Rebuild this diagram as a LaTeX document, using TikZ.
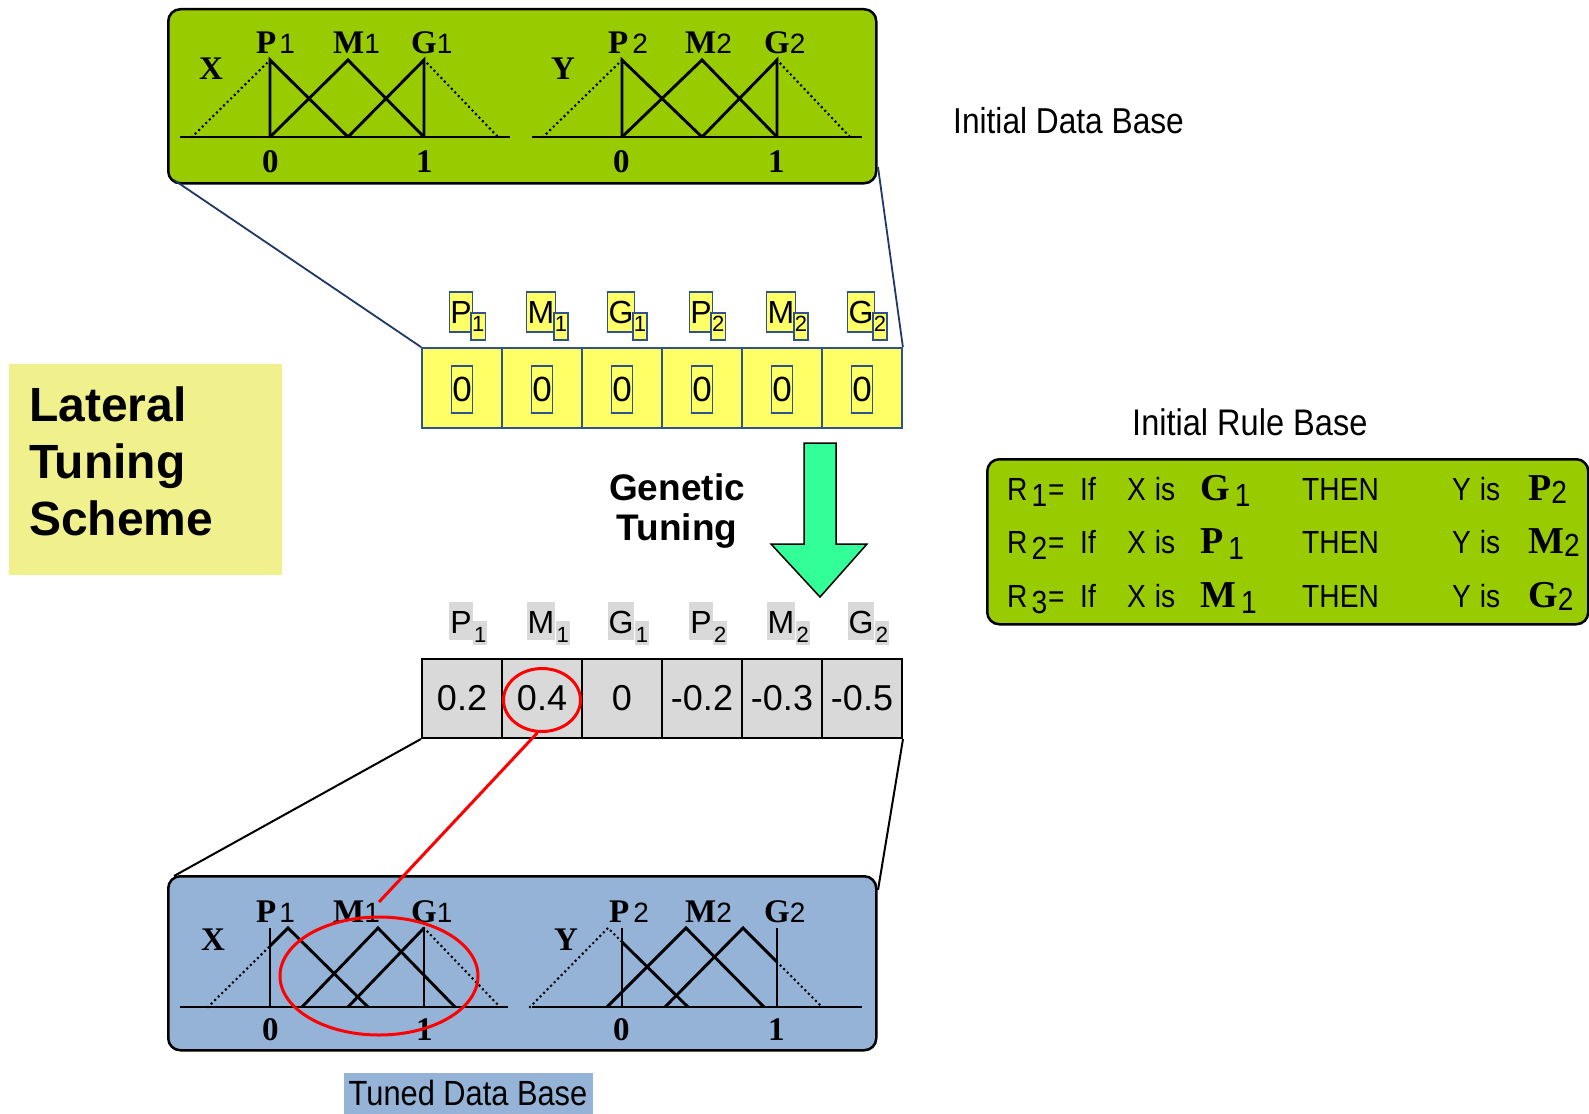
\documentclass[tikz,border=0pt]{standalone}
\usepackage{fontspec}
\usetikzlibrary{shapes.geometric}
\setmainfont{Liberation Serif}
\setsansfont{Liberation Sans}
\newfontfamily\arialf{Liberation Sans}
\newfontfamily\narrowf[FakeStretch=0.88]{Liberation Sans}
\newfontfamily\timesf{Liberation Serif}
\newcommand\myfs[1]{\fontsize{#1}{#1}\selectfont}
\newcommand\msub[1]{{\arialf\mdseries\myfs{28}#1}}
\definecolor{lgreen}{HTML}{99CC00}
\definecolor{bluebox}{HTML}{95B3D7}
\definecolor{yel}{HTML}{FFFF66}
\definecolor{dblue}{HTML}{2F528F}
\definecolor{lgray}{HTML}{D9D9D9}
\definecolor{latyel}{HTML}{F0F08C}
\definecolor{agreen}{HTML}{33FF99}
\definecolor{lnblue}{HTML}{1F3864}
\begin{document}
\begin{tikzpicture}[x=1pt,y=-1pt,
  dbbox/.style={draw=black, line width=2.5pt, rounded corners=12pt, inner sep=0pt, anchor=north west},
  mf/.style={line width=2.9pt},
  mfd/.style={line width=2.9pt, line cap=round, dash pattern=on 0pt off 5pt},
  mlab/.style={anchor=base west, inner sep=0pt, font=\timesf\bfseries\myfs{33}},
  ycell/.style={draw=dblue, line width=1.8pt, fill=yel, minimum width=80pt, minimum height=80pt, inner sep=0pt},
  yzero/.style={draw=dblue, line width=1.5pt, fill=yel, minimum width=21pt, minimum height=47pt, inner sep=0pt, font=\arialf\myfs{35}},
  ylab/.style={draw=dblue, line width=1.5pt, fill=yel, inner sep=1pt, text height=30pt, text depth=8pt, font=\arialf\myfs{32}},
  ysub/.style={draw=dblue, line width=1.5pt, fill=yel, inner sep=1pt, text height=18pt, text depth=7pt, font=\arialf\myfs{22}},
  gcell/.style={draw=black, line width=2pt, fill=lgray, minimum width=80pt, minimum height=79pt, inner sep=0pt},
  gval/.style={inner sep=0pt, font=\arialf\myfs{36}},
  glab/.style={fill=lgray, inner sep=1pt, text height=30pt, text depth=6pt, font=\arialf\myfs{32}},
  gsub/.style={fill=lgray, inner sep=1pt, text height=20pt, text depth=2pt, font=\arialf\myfs{22}},
  big/.style={anchor=base west, inner sep=0pt, font=\arialf\bfseries\myfs{48}},
  rt/.style={anchor=base west, inner sep=0pt, font=\narrowf\myfs{32}},
  lnk/.style={draw=lnblue, line width=1.8pt},
  redl/.style={draw=red, line width=3pt}
]
\useasboundingbox[fill=white] (0,0) rectangle (1589,1113);

% Lateral tuning scheme box
\node[fill=latyel, minimum width=273pt, minimum height=211pt, anchor=north west, inner sep=0pt] (lat) at (9,364) {};
\node[big] (l1) at (29,421) {Lateral};
\node[big] (l2) at (29,478) {Tuning};
\node[big] (l3) at (29,535) {Scheme};

% Initial data base box
\node[dbbox, fill=lgreen, minimum width=708pt, minimum height=174pt] (idb) at (167,8) {};
% X
\draw[mf] (180,137) -- (510,137);
\draw[mfd] (192,137) -- (270,60);
\draw[mfd] (424,60) -- (498,137);
\draw[mf] (270,137) -- (270,60) -- (348,137);
\draw[mf] (270,137) -- (348,60) -- (424,137);
\draw[mf] (348,137) -- (424,60) -- (424,137);
\node[mlab] (tx) at (199,80) {X};
\node[mlab] (tp1) at (256,54) {P\hspace{3pt}\msub{1}};
\node[mlab] (tm1) at (333,54) {M\msub{1}};
\node[mlab] (tg1) at (411,54) {G\msub{1}};
\node[mlab] (t0a) at (262,172) {0};
\node[mlab] (t1a) at (416,172) {1};
% Y
\draw[mf] (532,137) -- (862,137);
\draw[mfd] (543,137) -- (622,60);
\draw[mfd] (777,60) -- (850,137);
\draw[mf] (622,137) -- (622,60) -- (702,137);
\draw[mf] (622,137) -- (702,60) -- (777,137);
\draw[mf] (702,137) -- (777,60) -- (777,137);
\node[mlab] (ty) at (551,80) {Y};
\node[mlab] (tp2) at (608,54) {P\hspace{4pt}\msub{2}};
\node[mlab] (tm2) at (685,54) {M\msub{2}};
\node[mlab] (tg2) at (764,54) {G\msub{2}};
\node[mlab] (t0b) at (613,172) {0};
\node[mlab] (t1b) at (768,172) {1};

\node[anchor=base west, inner sep=0pt, font=\narrowf\myfs{36}] (idbl) at (953,134) {Initial Data Base};

% chromosomes
\foreach \i/\cx/\L/\s in {1/462/P/1, 2/542/M/1, 3/622/G/1, 4/702/P/2, 5/782/M/2, 6/862/G/2} {
  \node[ycell] (y\i) at (\cx,388) {};
  \node[yzero] (yz\i) at (\cx,389.5) {0};
  \node[ylab] (yl\i) at (\cx-1,312) {\L};
  \node[ysub, anchor=north west] (ys\i) at ([xshift=-3pt]yl\i.east) {\s};
  \node[gcell] (g\i) at (\cx,698.5) {};
  \node[glab] (gl\i) at (\cx-1,621) {\L};
  \node[gsub, anchor=north west] (gs\i) at (gl\i.east) {\s};
}
\foreach \i/\v in {1/0.2, 2/0.4, 3/0, 4/-0.2, 5/-0.3, 6/-0.5}
  \node[gval] (gv\i) at (g\i) {\v};

% connectors top box to chromosome
\coordinate (tlc) at (174,180);
\coordinate (trc) at (878,167);
\draw[lnk] (tlc) -- (y1.north west);
\draw[lnk] (trc) -- (y6.north east);

% genetic tuning arrow
\draw[fill=agreen, line width=1.5pt, line join=miter] (804,443) -- (836,443) -- (836,544) -- (867,544) -- (820,597) -- (771,544) -- (804,544) -- cycle;
\node[font=\arialf\bfseries\fontsize{37}{40}\selectfont, align=center, inner sep=0pt] (gt) at (677,511) {Genetic\\Tuning};

% tuned data base box
\node[dbbox, fill=bluebox, minimum width=708pt, minimum height=174pt] (tdbbox) at (167,875) {};
\coordinate (blc) at (174,876);
\coordinate (brc) at (878,890);
\draw[line width=2pt] (g1.south west) -- (blc);
\draw[line width=2pt] (g6.south east) -- (brc);
% X tuned
\draw[mf] (180,1007) -- (508,1007);
\draw[mf] (270,928) -- (270,1007);
\draw[mf] (424,928) -- (424,1007);
\draw[mfd] (208,1007) -- (270,946);
\draw[mf] (270,946) -- (288,928) -- (368,1007);
\draw[mf] (302,1007) -- (378,928) -- (455,1007);
\draw[mf] (348,1007) -- (424,928);
\draw[mfd] (424,928) -- (500,1007);
\node[mlab] (bx) at (201,950) {X};
\node[mlab] (bp1) at (256,922) {P\hspace{3pt}\msub{1}};
\node[mlab] (bm1) at (333,922) {M\msub{1}};
\node[mlab] (bg1) at (411,922) {G\msub{1}};
\node[mlab] (b0a) at (262,1040) {0};
\node[mlab] (b1a) at (416,1040) {1};
% Y tuned
\draw[mf] (532,1007) -- (862,1007);
\draw[mf] (622,928) -- (622,1007);
\draw[mf] (777,928) -- (777,1007);
\draw[mfd] (530,1007) -- (608,928) -- (622,942);
\draw[mf] (622,942) -- (688,1007);
\draw[mf] (607,1007) -- (686,928) -- (764,1007);
\draw[mf] (665,1007) -- (743,928) -- (777,962);
\draw[mfd] (777,962) -- (822,1007);
\node[mlab] (by) at (554,950) {Y};
\node[mlab] (bp2) at (609,922) {P\hspace{4pt}\msub{2}};
\node[mlab] (bm2) at (685,922) {M\msub{2}};
\node[mlab] (bg2) at (764,922) {G\msub{2}};
\node[mlab] (b0b) at (613,1040) {0};
\node[mlab] (b1b) at (768,1040) {1};

% red highlights
\node[ellipse, redl, minimum width=77pt, minimum height=63pt, inner sep=0pt] (e1) at (542,700) {};
\node[ellipse, redl, minimum width=198pt, minimum height=118pt, inner sep=0pt] (e2) at (379,976) {};
\coordinate (redend) at (379,902);
\draw[redl] (e1.262) -- (redend);

\node[fill=bluebox, minimum width=249pt, minimum height=41pt, inner sep=0pt, font=\narrowf\myfs{35}] (tdb) at (468,1093) {Tuned Data Base};

% rule base
\node[anchor=base west, inner sep=0pt, font=\narrowf\myfs{37}] (irbl) at (1132,435) {Initial Rule Base};
\node[dbbox, fill=lgreen, minimum width=601pt, minimum height=165pt] (rulebox) at (986,458) {};
\foreach \r/\yy/\A/\B in {1/500/G/P, 2/553/P/M, 3/607/M/G} {
  \node[rt] (ra\r) at (1007,\yy) {R\hspace{4pt}\raisebox{-6pt}{\r}\hspace{1pt}=};
  \node[rt] (rb\r) at (1080,\yy) {If};
  \node[rt] (rc\r) at (1127,\yy) {X\hspace{9pt}is};
  \node[rt] (rd\r) at (1200,\yy) {{\timesf\bfseries\myfs{38}\A}\hspace{5pt}\raisebox{-6pt}{1}};
  \node[rt] (re\r) at (1302,\yy) {THEN};
  \node[rt] (rf\r) at (1452,\yy) {Y\hspace{9pt}is};
  \node[rt] (rg\r) at (1528,\yy) {{\timesf\bfseries\myfs{38}\B}\raisebox{-3pt}{2}};
}
\end{tikzpicture}
\end{document}
